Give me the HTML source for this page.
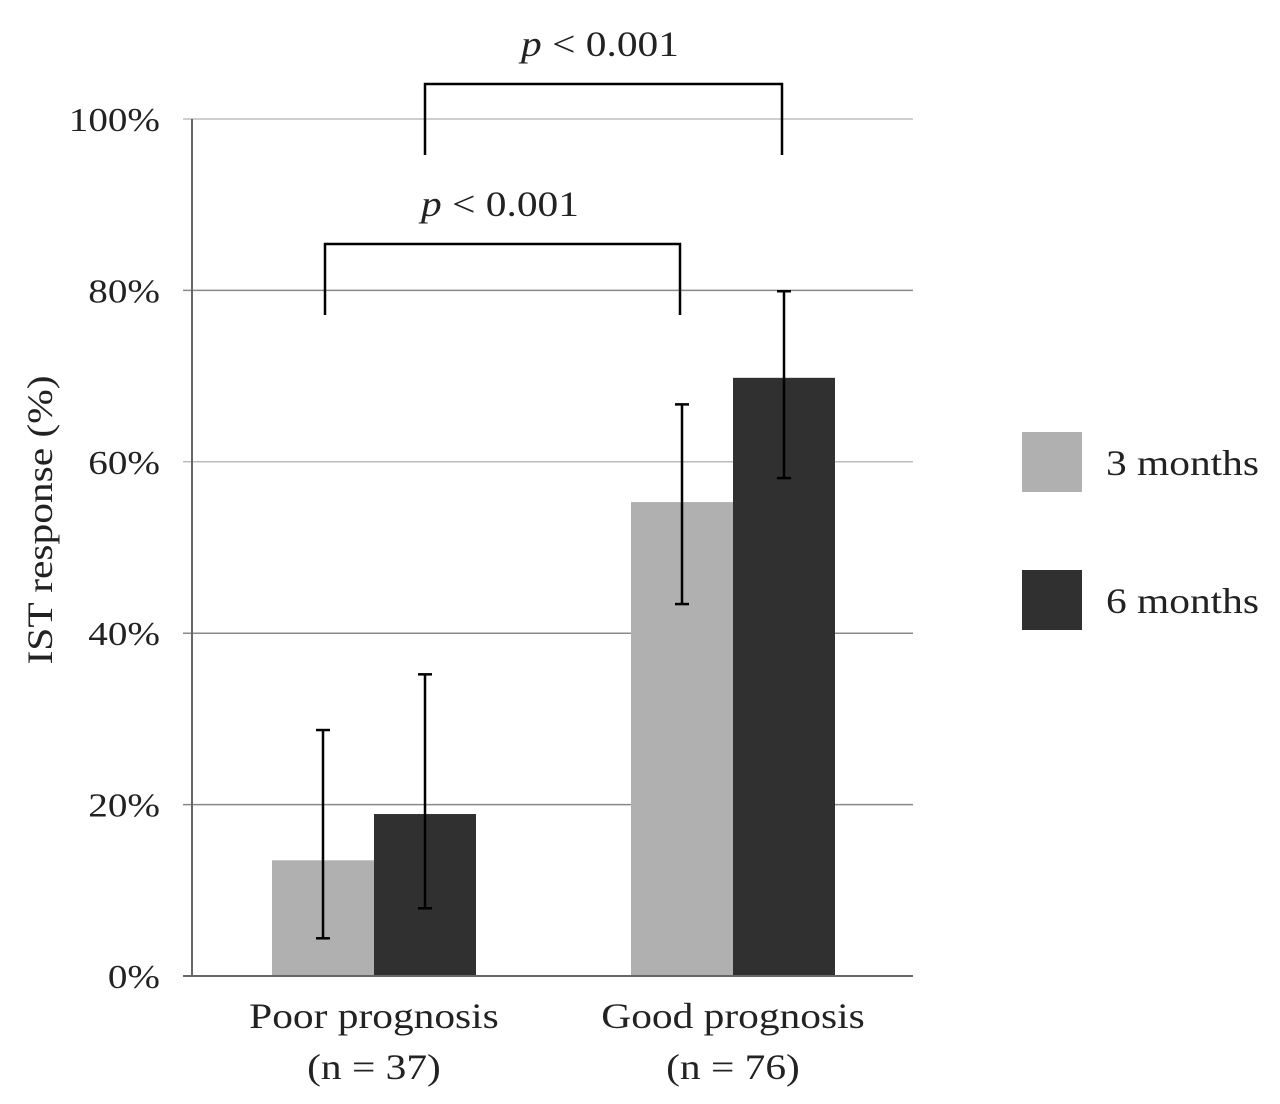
<!DOCTYPE html>
<html><head><meta charset="utf-8"><style>
html,body{margin:0;padding:0;background:#fff;}
svg text{font-family:"Liberation Serif",serif;fill:#222;}
</style></head><body>
<svg id="chart" width="1280" height="1099" viewBox="0 0 1280 1099" xmlns="http://www.w3.org/2000/svg"></svg>
<script>
const categories = ["Poor prognosis", "Good prognosis"];
const catSub = ["(n = 37)", "(n = 76)"];
const series = ["3 months", "6 months"];
const values3 = [13.5, 55.3];
const values6 = [18.9, 69.8];
const err3Hi = [28.7, 66.7];
const err3Lo = [4.4, 43.4];
const err6Hi = [35.2, 79.9];
const err6Lo = [7.9, 58.1];
const ticks = [0, 20, 40, 60, 80, 100];
const tickLabels = ["0%", "20%", "40%", "60%", "80%", "100%"];

const NS = "http://www.w3.org/2000/svg";
const svg = document.getElementById("chart");
function mk(tag, attrs, parent) {
  const e = document.createElementNS(NS, tag);
  for (const k in attrs) e.setAttribute(k, attrs[k]);
  (parent || svg).appendChild(e);
  return e;
}
const y0 = 976, y100 = 119;
const yS = v => y0 - (v / 100) * (y0 - y100);
const catCenter = [374, 733];
const barW = 102;
const colors = ["#b0b0b0", "#303030"];

ticks.forEach((t, i) => {
  const y = yS(t);
  const g = mk("line", {x1: 183, x2: 913, y1: y, y2: y, stroke: (t === 100 || t === 60) ? "#bdbdbd" : "#8a8a8a", "stroke-width": 1.5});
  
  
  const tl = mk("text", {x: 160, y: y + 12, "text-anchor": "end", "font-size": 34});
  tl.textContent = tickLabels[i];
  
  
});
const ax = mk("line", {x1: 192, x2: 192, y1: 119, y2: 977, stroke: "#666", "stroke-width": 2});



[values3, values6].forEach((vals, s) => {
  vals.forEach((v, i) => {
    const x = catCenter[i] - barW + s * barW;
    const r = mk("rect", {x: x, y: yS(v), width: barW, height: y0 - yS(v), fill: colors[s]});
    
    
  });
});
const xax = mk("line", {x1: 183, x2: 913, y1: y0, y2: y0, stroke: "#666", "stroke-width": 2});



[[err3Hi, err3Lo], [err6Hi, err6Lo]].forEach((pair, s) => {
  pair[0].forEach((hi, i) => {
    const cx = catCenter[i] - barW / 2 + s * barW;
    const g = mk("g", {stroke: "#000", "stroke-width": 2.5});
    
    
    mk("line", {x1: cx, x2: cx, y1: yS(hi), y2: yS(pair[1][i])}, g);
    mk("line", {x1: cx - 7, x2: cx + 7, y1: yS(hi), y2: yS(hi)}, g);
    mk("line", {x1: cx - 7, x2: cx + 7, y1: yS(pair[1][i]), y2: yS(pair[1][i])}, g);
  });
});

categories.forEach((c, i) => {
  const t = mk("text", {x: catCenter[i], y: 1028, "text-anchor": "middle", "font-size": 36});
  t.textContent = c;
  
  
  const t2 = mk("text", {x: catCenter[i], y: 1079, "text-anchor": "middle", "font-size": 36});
  t2.textContent = catSub[i];
  
  
});

const yt = mk("text", {x: 0, y: 0, "text-anchor": "middle", "font-size": 36, transform: "translate(52,520) rotate(-90)"});
yt.textContent = "IST response (%)";



function bracket(x1, x2, y, yEnd, tx, ty, name) {
  const p = mk("path", {d: `M${x1},${yEnd} V${y} H${x2} V${yEnd}`, fill: "none", stroke: "#000", "stroke-width": 2.5});
  
  
  const t = mk("text", {x: tx, y: ty, "text-anchor": "middle", "font-size": 36});
  t.innerHTML = '<tspan font-style="italic">p</tspan> &lt; 0.001';
  
  
}
bracket(425, 782, 84, 155, 600, 56, 'significance-bracket-6m');
bracket(325, 680, 244, 315, 500, 216, 'significance-bracket-3m');

series.forEach((s, i) => {
  const y = 432 + i * 138;
  const r = mk("rect", {x: 1022, y: y, width: 60, height: 60, fill: colors[i]});
  
  
  const t = mk("text", {x: 1106, y: y + 43, "font-size": 36});
  t.textContent = s;
  
  
});

// widen text horizontally to match reference
svg.querySelectorAll("text").forEach(t => {
  const L = t.getComputedTextLength();
  if (L > 0) {
    t.setAttribute("textLength", (L * 1.15).toFixed(1));
    t.setAttribute("lengthAdjust", "spacingAndGlyphs");
  }
});
</script>
</body></html>
